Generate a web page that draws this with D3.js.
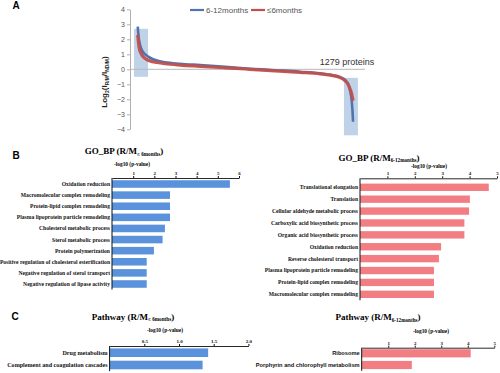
<!DOCTYPE html>
<html>
<head>
<meta charset="utf-8">
<script src="https://cdn.jsdelivr.net/npm/d3@7"></script>
<style>
  body { margin: 0; background: #fff; }
  svg { display: block; }
</style>
</head>
<body>
<div id="chart"></div>
<script>
// ---- panel A: ranked log2 ratios, 1279 proteins ----
const rankIdx   = [1, 6, 12, 21, 32, 50, 74, 115, 163, 252, 371, 519, 667, 816, 964, 1083, 1160, 1202, 1231, 1249, 1261, 1270, 1276, 1279];
const late      = [2.85, 2.2, 1.75, 1.4, 1.15, 0.95, 0.77, 0.58, 0.47, 0.37, 0.28, 0.16, 0.04, -0.06, -0.16, -0.27, -0.4, -0.52, -0.7, -0.95, -1.4, -2.0, -2.8, -3.5];
const early     = [2.3, 1.7, 1.3, 1.05, 0.85, 0.68, 0.55, 0.45, 0.37, 0.28, 0.2, 0.1, 0.0, -0.1, -0.2, -0.3, -0.42, -0.55, -0.75, -1.0, -1.3, -1.6, -1.9, -2.1];
const boxFrom   = [-21, 1225];
const boxTo     = [62, 1308];
const boxTop    = [2.7, -0.57];
const boxBottom = [-0.5, -4.4];
const yTicksA   = [-4, -3, -2, -1, 0, 1, 2, 3, 4];

// ---- panel B: GO biological process ----
const goEarlyTerms = ["Oxidation reduction", "Macromolecular complex remodeling", "Protein-lipid complex remodeling",
  "Plasma lipoprotein particle remodeling", "Cholesterol metabolic process", "Sterol metabolic process",
  "Protein polymerization", "Positive regulation of cholesterol esterification",
  "Negative regulation of sterol transport", "Negative regulation of lipase activity"];
const goEarlyVals = [5.57, 2.74, 2.74, 2.74, 2.5, 2.39, 1.98, 1.64, 1.64, 1.64];

const goLateTerms = ["Translational elongation", "Translation", "Cellular aldehyde metabolic process",
  "Carboxylic acid biosynthetic process", "Organic acid biosynthetic process", "Oxidation reduction",
  "Reverse cholesterol transport", "Plasma lipoprotein particle remodeling",
  "Protein-lipid complex remodeling", "Macromolecular complex remodeling"];
const goLateVals = [4.7, 4.01, 3.98, 3.81, 3.81, 2.96, 2.88, 2.7, 2.7, 2.7];

// ---- panel C: pathways ----
const pathEarlyTerms = ["Drug metabolism", "Complement and coagulation cascades"];
const pathEarlyVals  = [1.42, 1.34];
const pathLateTerms  = ["Ribosome", "Porphyrin and chlorophyll metabolism"];
const pathLateVals   = [4.11, 1.89];

const W = 500, H = 373;
const blueLine = "#5273ad", redLine = "#c0504d";
const blueBar = "#5a93dc", redBar = "#f27e83";
const serif = "'Liberation Serif', 'Times New Roman', serif";
const sans = "'Liberation Sans', Arial, sans-serif";

const svg = d3.select("#chart").append("svg")
    .attr("width", W)
    .attr("height", H);

svg.append("rect").attr("width", W).attr("height", H).attr("fill", "#fff");

// panel letters
[["A", 12.5, 9], ["B", 12.5, 158.5], ["C", 11.5, 319.5]].forEach(p => {
  svg.append("text").attr("x", p[1]).attr("y", p[2]).text(p[0])
    .attr("font-family", sans).attr("font-weight", "bold").attr("font-size", 10);
});

// ================= panel A =================
const xA = d3.scaleLinear().domain([-45, 1350]).range([130, 365]);
const yA = d3.scaleLinear().domain([-4, 4]).range([129.3, 9.3]);

const gA = svg.append("g");

// highlight boxes
gA.selectAll("rect.box")
  .data(boxFrom.map((d, i) => ({ a: d, b: boxTo[i], t: boxTop[i], u: boxBottom[i] })))
  .enter().append("rect")
  .attr("class", "box")
  .attr("x", d => xA(d.a))
  .attr("width", d => xA(d.b) - xA(d.a))
  .attr("y", d => yA(d.t))
  .attr("height", d => yA(d.u) - yA(d.t))
  .attr("fill", "#b9cde6")
  .attr("opacity", 0.9);

// zero line (category axis)
gA.append("line")
  .attr("x1", xA(-45)).attr("x2", xA(1350))
  .attr("y1", yA(0)).attr("y2", yA(0))
  .attr("stroke", "#b8b8b8").attr("stroke-width", 1);

// y axis
const axA = gA.append("g")
  .attr("transform", `translate(${xA(-45)},0)`)
  .call(d3.axisLeft(yA).tickValues(yTicksA).tickSize(3).tickPadding(2).tickSizeOuter(0));
axA.select(".domain").attr("stroke", "#b0b0b0");
axA.selectAll(".tick line").attr("stroke", "#b0b0b0");
axA.selectAll("text").attr("font-family", sans).attr("font-size", 7).attr("fill", "#555");

const line = d3.line()
  .x((d, i) => xA(rankIdx[i]))
  .y(d => yA(d))
  .curve(d3.curveMonotoneX);

gA.append("path").datum(late)
  .attr("d", line).attr("fill", "none")
  .attr("stroke", blueLine).attr("stroke-width", 2.6);
gA.append("path").datum(early)
  .attr("d", line).attr("fill", "none")
  .attr("stroke", redLine).attr("stroke-width", 3.2).attr("opacity", 0.95);

// y label
const yl = gA.append("text")
  .attr("transform", "translate(107,82) rotate(-90)")
  .attr("text-anchor", "middle")
  .attr("font-family", sans).attr("font-weight", "bold").attr("font-size", 8).attr("fill", "#222");
yl.append("tspan").text("Log");
yl.append("tspan").text("2").attr("font-size", 5).attr("dy", 2);
yl.append("tspan").text("(I").attr("dy", -2);
yl.append("tspan").text("R/M").attr("font-size", 5).attr("dy", 2);
yl.append("tspan").text("/I").attr("dy", -2);
yl.append("tspan").text("ND/M").attr("font-size", 5).attr("dy", 2);
yl.append("tspan").text(")").attr("dy", -2);

// annotation
gA.append("text")
  .attr("x", 347).attr("y", 65)
  .attr("text-anchor", "middle")
  .attr("font-family", sans).attr("font-size", 9).attr("fill", "#333")
  .text("1279 proteins");

// legend
const legend = [["6-12months", blueLine, 190], ["\u22646months", redLine, 251]];
legend.forEach(l => {
  gA.append("line").attr("x1", l[2]).attr("x2", l[2] + 14).attr("y1", 10).attr("y2", 10)
    .attr("stroke", l[1]).attr("stroke-width", 2.2);
  gA.append("text").attr("x", l[2] + 16).attr("y", 12.5).text(l[0])
    .attr("font-family", sans).attr("font-size", 8).attr("fill", "#555");
});

// ================= bar panels =================
function title(cx, cy, main, sub) {
  const el = svg.append("text")
    .attr("x", cx).attr("y", cy)
    .attr("text-anchor", "middle")
    .attr("font-family", serif).attr("font-weight", "bold").attr("font-size", 9);
  el.append("tspan").text(main);
  el.append("tspan").text(sub).attr("font-size", 5.2).attr("dy", 1.5);
  el.append("tspan").text(")").attr("dy", -1.5);
}

function barPanel(o) {
  const x = d3.scaleLinear().domain([0, o.max]).range(o.xr);
  const y = d3.scaleBand().domain(o.terms).range(o.yr)
    .paddingInner(o.pad).paddingOuter(o.pad / 2);
  const g = svg.append("g");

  g.selectAll("rect.bar")
    .data(o.vals)
    .enter().append("rect")
    .attr("x", x(0))
    .attr("y", (d, i) => y(o.terms[i]))
    .attr("width", d => x(d) - x(0))
    .attr("height", y.bandwidth())
    .attr("fill", o.color);

  // top value axis
  const ax = g.append("g")
    .attr("transform", `translate(0,${o.axisY})`)
    .call(d3.axisTop(x).tickValues(o.ticks).tickFormat(o.fmt)
      .tickSize(2).tickPadding(1).tickSizeOuter(0));
  ax.select(".domain").attr("stroke", "#111").attr("stroke-width", 0.9);
  ax.selectAll(".tick line").attr("stroke", "#111");
  ax.selectAll("text").attr("font-family", serif).attr("font-weight", "bold")
    .attr("font-size", 5).attr("fill", "#111");

  // category axis
  g.append("line")
    .attr("x1", x(0)).attr("x2", x(0))
    .attr("y1", o.axisY).attr("y2", o.yr[1])
    .attr("stroke", "#111").attr("stroke-width", 1);

  g.selectAll("text.lab")
    .data(o.terms)
    .enter().append("text")
    .attr("class", "lab")
    .attr("x", x(0) - 2)
    .attr("y", d => y(d) + y.bandwidth() / 2)
    .attr("dy", "0.35em")
    .attr("text-anchor", "end")
    .attr("font-family", o.labelFont).attr("font-weight", "bold")
    .attr("font-size", o.labelSize).attr("fill", "#111")
    .text(d => d);

  g.append("text")
    .attr("x", o.axLabel[0]).attr("y", o.axLabel[1])
    .attr("text-anchor", "middle")
    .attr("font-family", serif).attr("font-weight", "bold").attr("font-size", 5.4)
    .text("-log10 (p-value)");
}

title(124, 154, "GO_BP (R/M", "\u2264 6months");
barPanel({ terms: goEarlyTerms, vals: goEarlyVals, max: 6, ticks: [1, 2, 3, 4, 5, 6], fmt: d3.format("d"),
  xr: [112, 239], yr: [178.45, 289.55], pad: 0.32, axisY: 178, color: blueBar,
  labelFont: serif, labelSize: 5.6, axLabel: [132, 166] });

title(379, 160.5, "GO_BP (R/M", "6-12months");
barPanel({ terms: goLateTerms, vals: goLateVals, max: 5, ticks: [1, 2, 3, 4, 5], fmt: d3.format("d"),
  xr: [360, 497], yr: [181.35, 300.25], pad: 0.38, axisY: 178.3, color: redBar,
  labelFont: serif, labelSize: 5.6, axLabel: [429, 168] });

title(133, 319.5, "Pathway (R/M", "\u2264 6months");
barPanel({ terms: pathEarlyTerms, vals: pathEarlyVals, max: 2, ticks: [0.5, 1, 1.5, 2], fmt: d3.format(".1f"),
  xr: [109.6, 248.4], yr: [346.55, 371.15], pad: 0.3, axisY: 346, color: blueBar,
  labelFont: serif, labelSize: 6.1, axLabel: [165, 332] });

title(378, 320, "Pathway (R/M", "6-12months");
barPanel({ terms: pathLateTerms, vals: pathLateVals, max: 5, ticks: [1, 2, 3, 4, 5], fmt: d3.format("d"),
  xr: [361.7, 494.3], yr: [347.45, 370.85], pad: 0.3, axisY: 347.7, color: redBar,
  labelFont: sans, labelSize: 5.7, axLabel: [431, 333] });
</script>
</body>
</html>
